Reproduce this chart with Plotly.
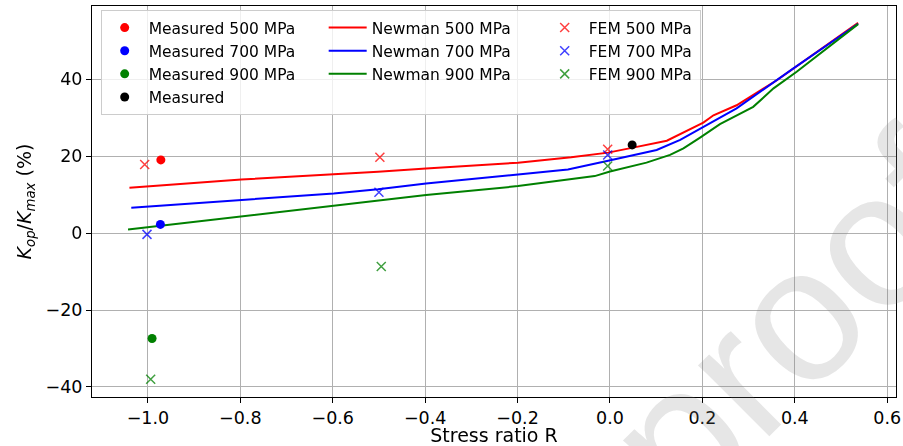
import plotly.graph_objects as go

# Stress ratio R and crack opening ratio Kop/Kmax (%)
measured_500_r = [-0.972]
measured_500_k = [19.0]
measured_700_r = [-0.973]
measured_700_k = [2.25]
measured_900_r = [-0.991]
measured_900_k = [-27.4]
measured_r = [0.048]
measured_k = [22.9]

newman_500_r = [-1.040, -0.798, -0.598, -0.502, -0.398, -0.199, -0.084, -0.004,
                0.050, 0.123, 0.202, 0.224, 0.274, 0.361, 0.537]
newman_500_k = [11.8, 13.9, 15.3, 15.9, 16.8, 18.3, 19.7, 20.9,
                22.2, 24.0, 28.7, 30.6, 33.2, 39.7, 54.6]
newman_700_r = [-1.036, -0.798, -0.598, -0.502, -0.398, -0.199, -0.091, -0.004,
                0.101, 0.152, 0.202, 0.274, 0.397, 0.537]
newman_700_k = [6.6, 8.6, 10.3, 11.4, 12.9, 15.2, 16.5, 18.8,
                21.6, 24.2, 27.6, 32.4, 42.8, 54.4]
newman_900_r = [-1.043, -1.0, -0.798, -0.598, -0.502, -0.398, -0.199, -0.033,
                0.0, 0.079, 0.130, 0.159, 0.195, 0.238, 0.310, 0.354, 0.404, 0.537]
newman_900_k = [0.9, 1.5, 4.2, 7.0, 8.3, 9.9, 12.2, 14.8,
                16.0, 18.3, 20.3, 22.0, 24.8, 28.3, 32.8, 37.6, 41.9, 54.3]

fem_500_r = [-1.007, -0.498, -0.005]
fem_500_k = [17.8, 19.7, 21.8]
fem_700_r = [-1.002, -0.500, -0.005]
fem_700_k = [-0.35, 10.6, 20.3]
fem_900_r = [-0.994, -0.495, -0.005]
fem_900_k = [-38.0, -8.7, 17.4]

x_ticks = [-1.0, -0.8, -0.6, -0.4, -0.2, 0.0, 0.2, 0.4, 0.6]
y_ticks = [-40, -20, 0, 20, 40]

RED, BLUE, GREEN, BLACK = "#ff0000", "#0000ff", "#008000", "#000000"
FONT = "DejaVu Sans"

fig = go.Figure()

# Newman model curves
for name, r, k, c, rank in [
    ("Newman 500 MPa", newman_500_r, newman_500_k, RED, 5),
    ("Newman 700 MPa", newman_700_r, newman_700_k, BLUE, 6),
    ("Newman 900 MPa", newman_900_r, newman_900_k, GREEN, 7),
]:
    fig.add_trace(go.Scatter(
        x=r, y=k, mode="lines", name=name, line=dict(color=c, width=2),
        legendgroup="newman", legendrank=rank, legendwidth=164,
    ))

# Measurements
for name, r, k, c, rank in [
    ("Measured 500 MPa", measured_500_r, measured_500_k, RED, 1),
    ("Measured 700 MPa", measured_700_r, measured_700_k, BLUE, 2),
    ("Measured 900 MPa", measured_900_r, measured_900_k, GREEN, 3),
    ("Measured", measured_r, measured_k, BLACK, 4),
]:
    fig.add_trace(go.Scatter(
        x=r, y=k, mode="markers", name=name,
        marker=dict(color=c, size=9, symbol="circle"),
        legendgroup="measured", legendrank=rank, legendwidth=170,
    ))

# FEM results
for name, r, k, c, rank in [
    ("FEM 500 MPa", fem_500_r, fem_500_k, RED, 8),
    ("FEM 700 MPa", fem_700_r, fem_700_k, BLUE, 9),
    ("FEM 900 MPa", fem_900_r, fem_900_k, GREEN, 10),
]:
    fig.add_trace(go.Scatter(
        x=r, y=k, mode="markers", name=name, opacity=0.75,
        marker=dict(symbol="x-thin", size=9, line=dict(color=c, width=1.5)),
        legendgroup="fem", legendrank=rank, legendwidth=106,
    ))

axis_common = dict(
    showgrid=True, gridcolor="#b0b0b0", gridwidth=1,
    showline=True, linecolor="#000000", linewidth=1, mirror=True,
    ticks="outside", ticklen=5, tickwidth=1, tickcolor="#000000",
    zeroline=False, automargin=False,
    tickfont=dict(family=FONT, size=17.5, color="#000000"),
)

fig.update_layout(
    width=903, height=446,
    margin=dict(l=92, r=7, t=6, b=49),
    paper_bgcolor="white", plot_bgcolor="white",
    showlegend=True,
    legend=dict(
        orientation="h", traceorder="grouped", tracegroupgap=0, itemwidth=38,
        x=0.0108, y=0.9898, xanchor="left", yanchor="top",
        bgcolor="rgba(255,255,255,0.8)", bordercolor="#cccccc", borderwidth=1,
        font=dict(family=FONT, size=15.5, color="#000000"),
    ),
    xaxis=dict(
        range=[-1.121, 0.619], tickvals=x_ticks, tickformat=".1f",
        title=dict(text="Stress ratio R", font=dict(family=FONT, size=19, color="#000000"), standoff=4),
        **axis_common,
    ),
    yaxis=dict(
        range=[-42.6, 59.0], tickvals=y_ticks,
        title=dict(
            text="<i>K</i><sub><i>op</i></sub>/<i>K</i><sub><i>max</i></sub> (%)",
            font=dict(family=FONT, size=19, color="#000000"), standoff=8,
        ),
        **axis_common,
    ),
)

# Proof watermark
fig.add_annotation(
    text="proof", xref="paper", yref="paper", x=0.871, y=0.197,
    xanchor="center", yanchor="middle", showarrow=False, textangle=-45,
    font=dict(family="Liberation Sans", size=190, color="rgba(128,128,128,0.2)"),
)

fig.write_html("out.html")
